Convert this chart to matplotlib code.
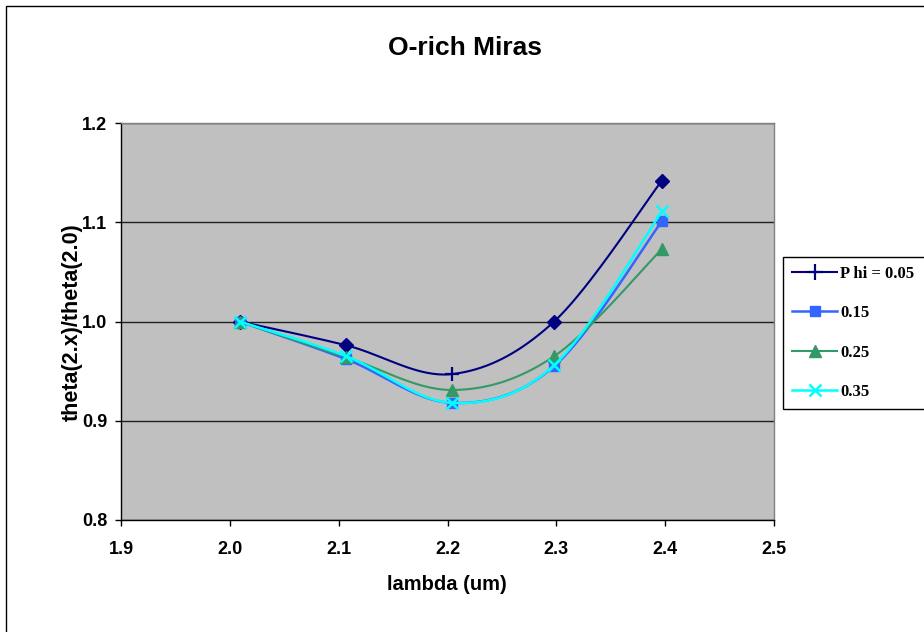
import numpy as np
import matplotlib
matplotlib.use("Agg")
import matplotlib.pyplot as plt
from matplotlib.lines import Line2D
from matplotlib.patches import Rectangle

# Wavelengths (um) and normalised visibility ratios per phase
wavelength = [2.009, 2.107, 2.204, 2.298, 2.397]
phi_005 = [1.000, 0.976, 0.947, 1.000, 1.142]
phi_015 = [1.000, 0.962, 0.918, 0.955, 1.101]
phi_025 = [1.000, 0.964, 0.931, 0.965, 1.073]
phi_035 = [1.000, 0.965, 0.918, 0.956, 1.111]
series_labels = ["P hi = 0.05", "0.15", "0.25", "0.35"]
x_ticks = [1.9, 2.0, 2.1, 2.2, 2.3, 2.4, 2.5]
y_ticks = [0.8, 0.9, 1.0, 1.1, 1.2]

SANS = "Liberation Sans"
SERIF = "Liberation Serif"


def smooth(xs, ys, n=40):
    """Piecewise cubic Bezier through the points (spreadsheet-style smoothing)."""
    p = np.column_stack([xs, ys]).astype(float)
    m = len(p)
    out = [p[0]]
    t = np.linspace(0, 1, n)[1:, None]
    for i in range(m - 1):
        p_prev = p[i - 1] if i > 0 else p[i]
        p_next2 = p[i + 2] if i + 2 < m else p[i + 1]
        c1 = p[i] + (p[i + 1] - p_prev) / 6.0
        c2 = p[i + 1] - (p_next2 - p[i]) / 6.0
        seg = ((1 - t) ** 3) * p[i] + 3 * ((1 - t) ** 2) * t * c1 \
            + 3 * (1 - t) * t ** 2 * c2 + t ** 3 * p[i + 1]
        out.extend(seg)
    out = np.array(out)
    return out[:, 0], out[:, 1]


fig = plt.figure(figsize=(9.24, 6.32), dpi=100)
fig.patch.set_facecolor("white")

# chart-area border (runs off the right and bottom edges)
fig.patches.append(Rectangle((5.5 / 924, -0.2), 1.2, 1.2 - 5.5 / 632,
                             transform=fig.transFigure, fill=False,
                             edgecolor="black", linewidth=1.0))

ax = fig.add_axes([121 / 924, 1 - 520 / 632, 653 / 924, 397 / 632])
ax.set_facecolor("#C0C0C0")
ax.set_xlim(1.9, 2.5)
ax.set_ylim(0.8, 1.2)
ax.set_xticks(x_ticks)
ax.set_yticks(y_ticks)
ax.set_xticklabels([f"{v:.1f}" for v in x_ticks])
ax.set_yticklabels([f"{v:.1f}" for v in y_ticks])
for lab in ax.get_xticklabels() + ax.get_yticklabels():
    lab.set_fontfamily(SANS)
    lab.set_fontweight("bold")
    lab.set_fontsize(13)
ax.tick_params(axis="both", direction="out", length=4, width=1, color="black")
ax.tick_params(axis="x", pad=11)
ax.tick_params(axis="y", pad=6)

ax.yaxis.grid(True, color="#202020", linewidth=1.0)
ax.set_axisbelow(True)
for side in ("top", "right"):
    ax.spines[side].set_color("#808080")
    ax.spines[side].set_linewidth(1.0)
for side in ("left", "bottom"):
    ax.spines[side].set_color("black")
    ax.spines[side].set_linewidth(1.0)

c005, c015, c025, c035 = "#000080", "#3366FF", "#339966", "#00FFFF"

# Phi = 0.05
sx, sy = smooth(wavelength, phi_005)
ax.plot(sx, sy, color=c005, lw=1.5, zorder=3)
idx_d = [0, 1, 3, 4]
ax.plot([wavelength[i] for i in idx_d], [phi_005[i] for i in idx_d], ls="none",
        marker="D", ms=7, color=c005, zorder=4)
ax.plot([wavelength[2]], [phi_005[2]], ls="none", marker="+", ms=10, mew=1.6,
        color=c005, zorder=4)

# Phi = 0.15
sx, sy = smooth(wavelength, phi_015)
ax.plot(sx, sy, color=c015, lw=1.8, zorder=3)
ax.plot(wavelength, phi_015, ls="none", marker="s", ms=7, color=c015, zorder=4)

# Phi = 0.25
sx, sy = smooth(wavelength, phi_025)
ax.plot(sx, sy, color=c025, lw=1.5, zorder=3)
ax.plot(wavelength, phi_025, ls="none", marker="^", ms=8.5, color=c025, zorder=4)

# Phi = 0.35
sx, sy = smooth(wavelength, phi_035)
ax.plot(sx, sy, color=c035, lw=1.8, zorder=5)
ax.plot(wavelength, phi_035, ls="none", marker="x", ms=8.5, mew=1.8, color=c035,
        zorder=6)

# legend box (its right side lies past the figure edge)
fig.patches.append(Rectangle((782.5 / 924, 1 - 408.5 / 632), 0.3, 152 / 632,
                             transform=fig.transFigure, facecolor="white",
                             edgecolor="black", linewidth=1.0, zorder=1))

handles = [
    Line2D([], [], color=c005, lw=1.5, marker="+", ms=11, mew=1.6),
    Line2D([], [], color=c015, lw=1.8, marker="s", ms=7),
    Line2D([], [], color=c025, lw=1.5, marker="^", ms=8.5),
    Line2D([], [], color=c035, lw=1.8, marker="x", ms=8.5, mew=1.8),
]
leg = fig.legend(handles, series_labels, loc="upper left",
                 bbox_to_anchor=(782 / 924, 1 - 256 / 632),
                 borderaxespad=0, borderpad=0.6, handlelength=2.7,
                 handletextpad=0.2, labelspacing=1.4, frameon=False,
                 prop={"family": SERIF, "weight": "bold", "size": 12})

fig.text(465 / 924, 1 - 48 / 632, "O-rich Miras", ha="center", va="center",
         fontfamily=SANS, fontweight="bold", fontsize=19)
fig.text(447 / 924, 1 - 585 / 632, "lambda (um)", ha="center", va="center",
         fontfamily=SANS, fontweight="bold", fontsize=14.5)
fig.text(72 / 924, 1 - 322 / 632, "theta(2.x)/theta(2.0)", ha="center",
         va="center", rotation=90, fontfamily=SANS, fontweight="bold",
         fontsize=15.5)

fig.savefig("out.png", dpi=100)
